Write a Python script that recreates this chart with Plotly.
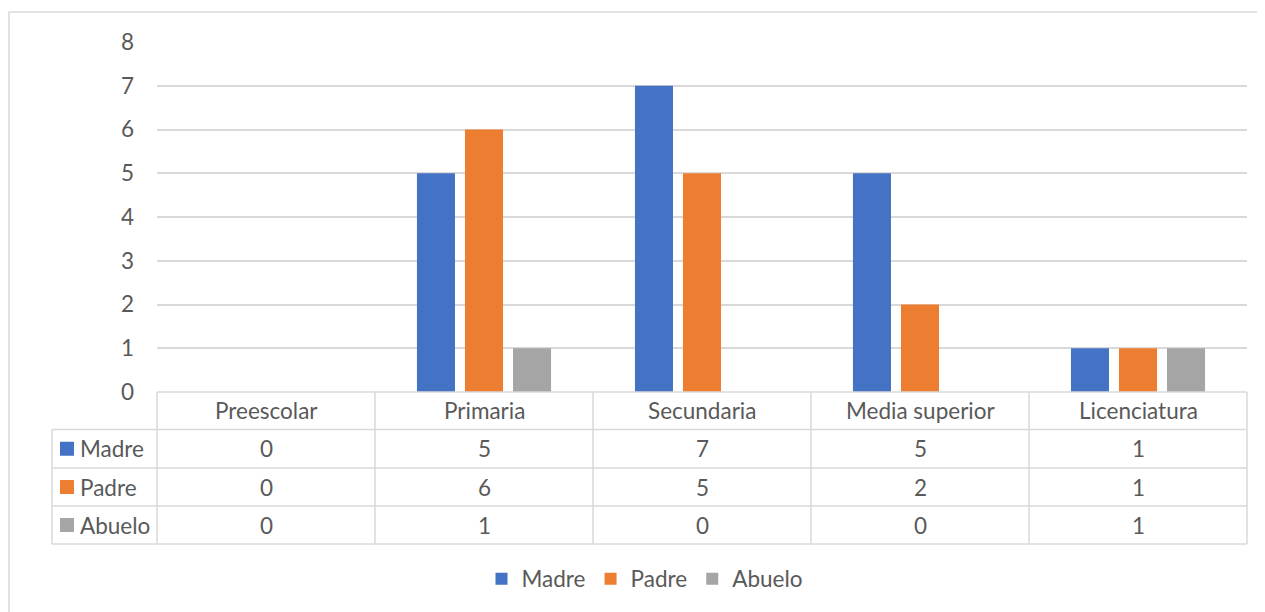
import plotly.graph_objects as go

categories = ["Preescolar", "Primaria", "Secundaria", "Media superior", "Licenciatura"]
series_names = ["Madre", "Padre", "Abuelo"]
madre = [0, 5, 7, 5, 1]
padre = [0, 6, 5, 2, 1]
abuelo = [0, 1, 0, 0, 1]
colors = ["#4472C4", "#ED7D31", "#A5A5A5"]
y_ticks = [0, 1, 2, 3, 4, 5, 6, 7, 8]

values = [madre, padre, abuelo]

W, H = 1265, 612
OFF = 8  # page body margin offset
# target plot area on screen: x 157..1247, y 42..392
ML = 157 - OFF
MT = 42 - OFF
PW = 1247 - 157
PH = 392 - 42
MR = W - ML - PW
MB = H - MT - PH

def px_y(py):
    # screen pixel row -> paper y
    return (392 - py) / PH

def px_x(px):
    return (px - 157) / PW

FONT = "Lato, 'Open Sans', sans-serif"
FS = 22.5
TXT = "#595959"
GRID = "#D9D9D9"

fig = go.Figure()
for name, vals, col in zip(series_names, values, colors):
    fig.add_trace(go.Bar(x=categories, y=vals, name=name, marker_color=col,
                         marker_line_width=0))

shapes = []
annotations = []
n = len(categories)
line = dict(color=GRID, width=1.5)

row_edges = [392, 429.5, 468, 506, 544]
left_px = 52

shapes.append(dict(type="line", xref="paper", yref="paper", x0=0, x1=1,
                   y0=px_y(row_edges[0]), y1=px_y(row_edges[0]), line=line, layer="above"))
for r in row_edges[1:]:
    shapes.append(dict(type="line", xref="paper", yref="paper", x0=px_x(left_px), x1=1,
                       y0=px_y(r), y1=px_y(r), line=line))
for k in range(n + 1):
    shapes.append(dict(type="line", xref="paper", yref="paper", x0=k / n, x1=k / n,
                       y0=px_y(row_edges[0]), y1=px_y(row_edges[-1]), line=line))
shapes.append(dict(type="line", xref="paper", yref="paper", x0=px_x(left_px), x1=px_x(left_px),
                   y0=px_y(row_edges[1]), y1=px_y(row_edges[-1]), line=line))

hdr_y = px_y((row_edges[0] + row_edges[1]) / 2)
for c in categories:
    annotations.append(dict(x=c, xref="x", y=hdr_y, yref="paper", text=c, showarrow=False,
                            font=dict(family=FONT, size=FS, color=TXT), xanchor="center", yanchor="middle"))

for i, (name, vals, col) in enumerate(zip(series_names, values, colors)):
    cy = (row_edges[i + 1] + row_edges[i + 2]) / 2
    yp = px_y(cy)
    for c, v in zip(categories, vals):
        annotations.append(dict(x=c, xref="x", y=yp, yref="paper", text=str(v), showarrow=False,
                                font=dict(family=FONT, size=FS, color=TXT), xanchor="center", yanchor="middle"))
    shapes.append(dict(type="rect", xref="paper", yref="paper",
                       x0=px_x(60), x1=px_x(74), y0=px_y(cy - 7), y1=px_y(cy + 7),
                       fillcolor=col, line=dict(width=0)))
    annotations.append(dict(x=px_x(78), xref="paper", y=yp, yref="paper", text=name, showarrow=False,
                            font=dict(family=FONT, size=FS, color=TXT), xanchor="left", yanchor="middle"))

# outer chart border (left edge kept inside the figure)
shapes.append(dict(type="rect", xref="paper", yref="paper",
                   x0=px_x(OFF + 1), x1=px_x(1300), y0=px_y(650), y1=px_y(12),
                   line=dict(color=GRID, width=1.5), fillcolor="rgba(0,0,0,0)", layer="below"))

fig.update_layout(
    width=W, height=H,
    margin=dict(l=ML, r=MR, t=MT, b=MB),
    paper_bgcolor="white", plot_bgcolor="white",
    barmode="group", bargap=0.339, bargroupgap=0.208,
    font=dict(family=FONT, size=FS, color=TXT),
    xaxis=dict(showticklabels=False, showgrid=False, zeroline=False, showline=False,
               range=[-0.5, n - 0.5], fixedrange=True),
    yaxis=dict(range=[0, 8], tickvals=y_ticks, showgrid=True, gridcolor=GRID, gridwidth=1.5,
               zeroline=False, showline=False, ticks="", ticklabelstandoff=22,
               tickfont=dict(family=FONT, size=FS, color=TXT)),
    showlegend=True,
    legend=dict(orientation="h", x=px_x(645), xanchor="center", y=px_y(579), yanchor="middle",
                font=dict(family=FONT, size=FS, color=TXT), itemwidth=30, traceorder="normal"),
    shapes=shapes, annotations=annotations,
)

fig.write_html("out.html")
